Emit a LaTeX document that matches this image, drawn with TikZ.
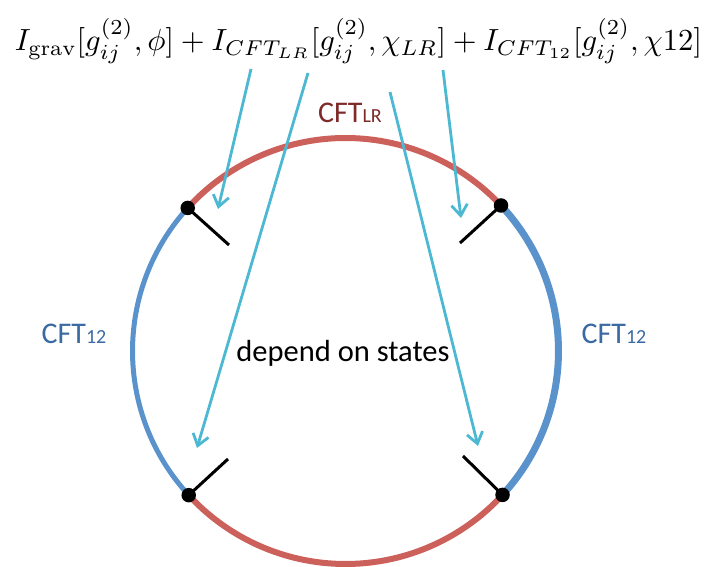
\documentclass[tikz,border=0pt]{standalone}
\usepackage{graphicx}
\usepackage{fontspec}
\newfontfamily\carl{Carlito}
\usetikzlibrary{arrows.meta,calc}
\definecolor{redarc}{HTML}{CC605A}
\definecolor{bluearc}{HTML}{5A93CB}
\definecolor{cyanarr}{HTML}{4DB8D2}
\definecolor{lrtext}{HTML}{7E2A28}
\definecolor{ctext}{HTML}{3A6AA2}
\tikzset{
  dotnode/.style={circle,fill=black,inner sep=0pt,minimum size=14.5pt},
  tickline/.style={black,line width=3pt},
  arr/.style={cyanarr,line width=2.8pt,-{Straight Barb[length=11pt,width=16pt,line width=2.8pt]}},
  lbl/.style={inner sep=0pt,anchor=base},
}
\begin{document}
\begin{tikzpicture}[x=1pt,y=1pt]
\useasboundingbox (0,0) rectangle (716,-567);
\coordinate (O) at (345.5,-351);
% arcs
\draw[redarc,line width=6pt] ($(O)+(43.1:213pt)$) arc[start angle=43.1,end angle=137.8,radius=213pt];
\draw[bluearc,line width=5pt] ($(O)+(137.8:213pt)$) arc[start angle=137.8,end angle=222.6,radius=213pt];
\draw[redarc,line width=6pt] ($(O)+(222.6:213pt)$) arc[start angle=222.6,end angle=317.5,radius=213pt];
\draw[bluearc,line width=7pt] ($(O)+(317.5:213pt)$) arc[start angle=317.5,end angle=403.1,radius=213pt];
% dots
\node[dotnode] (d1) at ($(O)+(137.8:213pt)$) {};
\node[dotnode] (d2) at ($(O)+(43.1:213pt)$) {};
\node[dotnode] (d3) at ($(O)+(222.6:213pt)$) {};
\node[dotnode] (d4) at ($(O)+(317.5:213pt)$) {};
% ticks
\coordinate (t1) at (229,-245);
\coordinate (t2) at (460,-243);
\coordinate (t3) at (228,-459);
\coordinate (t4) at (463,-456);
\draw[tickline] (d1.center) -- (t1);
\draw[tickline] (d2.center) -- (t2);
\draw[tickline] (d3.center) -- (t3);
\draw[tickline] (d4.center) -- (t4);
% formula
\node[inner sep=0pt] (f) at (358.5,-41) {\resizebox{687pt}{!}{$I_{\mathrm{grav}}[g^{(2)}_{ij},\phi]+I_{CFT_{LR}}[g^{(2)}_{ij},\chi_{LR}]+I_{CFT_{12}}[g^{(2)}_{ij},\chi12]$}};
% labels
\node[lbl,text=lrtext] (lr) at (350,-123) {\carl\fontsize{30}{30}\selectfont CFT{\fontsize{20}{20}\selectfont LR}};
\node[lbl,text=ctext] (c12l) at (74,-343) {\carl\fontsize{30}{30}\selectfont CFT{\fontsize{20}{20}\selectfont 12}};
\node[lbl,text=ctext] (c12r) at (614,-343) {\carl\fontsize{30}{30}\selectfont CFT{\fontsize{20}{20}\selectfont 12}};
\node[lbl,text=black] (dep) at (343,-362) {\carl\fontsize{30.5}{30.5}\selectfont depend on states};
% arrows
\coordinate (s1) at (251,-69);
\coordinate (e1) at (218,-209);
\coordinate (s2) at (308,-73);
\coordinate (e2) at (197,-448);
\coordinate (s3) at (390,-92);
\coordinate (e3) at (478,-446);
\coordinate (s4) at (443,-70);
\coordinate (e4) at (461,-218);
\draw[arr] (s1) -- (e1);
\draw[arr] (s2) -- (e2);
\draw[arr] (s3) -- (e3);
\draw[arr] (s4) -- (e4);
\end{tikzpicture}
\end{document}
